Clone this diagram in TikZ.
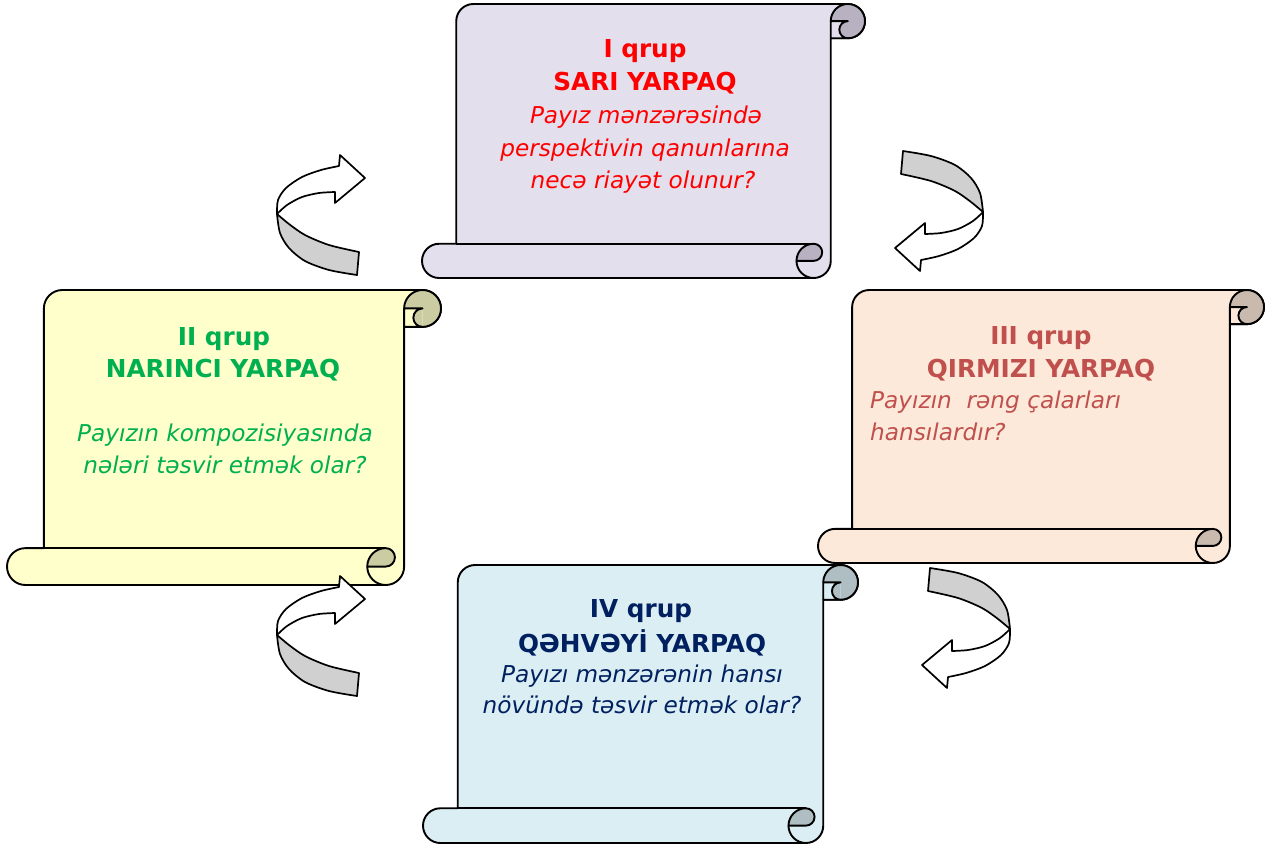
\documentclass[tikz,border=0pt]{standalone}
\usepackage{fontspec}
\setmainfont{DejaVu Sans}
\definecolor{sAfill}{HTML}{E4DFEC}\definecolor{sAcurl}{HTML}{B7B1C1}
\definecolor{sBfill}{HTML}{FFFFCC}\definecolor{sBcurl}{HTML}{CCCCA3}
\definecolor{sCfill}{HTML}{FDE9D9}\definecolor{sCcurl}{HTML}{CABAAE}
\definecolor{sDfill}{HTML}{DBEEF3}\definecolor{sDcurl}{HTML}{AFBEC2}
\definecolor{txA}{HTML}{FF0000}
\definecolor{txB}{HTML}{00B050}
\definecolor{txC}{HTML}{C0504D}
\definecolor{txD}{HTML}{002060}
\definecolor{ribbongray}{HTML}{D0D0D0}
\tikzset{
  scrollline/.style={draw=black, line width=1.9pt, line join=round},
  ribbon/.style={draw=black, line width=1.7pt, line join=round},
  hdr/.style={anchor=base, inner sep=0pt, font=\fontsize{24.7}{30}\selectfont\bfseries},
  qst/.style={anchor=base, inner sep=0pt, font=\fontsize{23.2}{30}\selectfont\itshape},
}
% #1 left, #2 top, #3 right, #4 bottom (screen pixels, y down), #5 fill, #6 curl fill
\newcommand{\scrollat}[6]{%
  \pgfmathsetmacro{\scC}{0.125*min(#3-#1,#4-#2)}%
  \pgfmathsetmacro{\scH}{\scC/2}%
  \pgfmathsetmacro{\scQ}{\scC/4}%
  \draw[scrollline, fill=#5] ({#1+\scC},{#4-\scC}) -- ({#1+\scC},{#2+\scH})
     arc[start angle=180, end angle=270, radius=\scH] -- ({#3-\scH},{#2})
     arc[start angle=270, end angle=450, radius=\scH] -- ({#3-\scC},{#2+\scC})
     -- ({#3-\scC},{#4-\scH}) arc[start angle=0, end angle=90, radius=\scH]
     -- ({#1+\scH},{#4}) arc[start angle=90, end angle=270, radius=\scH] -- cycle;
  \fill[#6] ({#3-\scH},{#2+\scH}) circle[radius=\scH];
  \fill[#5] ({#3-\scC},{#2+\scH}) rectangle ({#3-\scH},{#2+\scC});
  \fill[#6] ({#3-\scH},{#2+\scH}) arc[start angle=270, end angle=90, radius=\scQ] -- cycle;
  \draw[scrollline] ({#3-\scC},{#2+\scH}) arc[start angle=180, end angle=450, radius=\scH];
  \draw[scrollline] ({#3-\scC},{#2+\scC}) -- ({#3-\scC},{#2+\scH}) -- ({#3-\scH},{#2+\scH})
     arc[start angle=270, end angle=90, radius=\scQ] -- ({#3-\scC},{#2+\scC});
  \draw[scrollline] ({#1+\scC},{#4-\scC}) -- ({#3-\scC-\scH},{#4-\scC});
  \filldraw[scrollline, fill=#6] ({#3-\scC-\scH},{#4-\scC})
     arc[start angle=270, end angle=450, radius=\scQ] -- ({#3-\scC-\scC},{#4-\scH})
     arc[start angle=180, end angle=270, radius=\scH] -- cycle;
  \draw[scrollline] ({#3-\scC-\scC},{#4-\scH}) arc[start angle=180, end angle=90, radius=\scH];
}
\newcommand{\ribbonsil}[1]{%
  \path[#1] (365,178) -- (340,155) -- (339,166)
    -- plot[smooth] coordinates {(339,166) (321,170) (302,177) (286,188) (278,200) (277,214)}
    -- plot[smooth] coordinates {(277,214) (280,233) (289,248) (305,261) (329,270) (357,275)}
    -- (359,252)
    -- plot[smooth] coordinates {(359,252) (329,245) (305,235) (289,224) (277,214)}
    -- plot[smooth] coordinates {(277,214) (287,205) (302,197) (319,193) (335,192)}
    -- (335,203) -- cycle;}
\newcommand{\ribbonback}[1]{%
  \path[#1] (277,214)
    -- plot[smooth] coordinates {(277,214) (280,233) (289,248) (305,261) (329,270) (357,275)}
    -- (359,252)
    -- plot[smooth] coordinates {(359,252) (329,245) (305,235) (289,224) (277,214)} -- cycle;}
\newcommand{\ribbonarrow}{%
  \ribbonsil{fill=white}%
  \ribbonback{fill=ribbongray}%
  \ribbonsil{ribbon}%
}
\begin{document}
\begin{tikzpicture}[x=1pt, y=-1pt]
\useasboundingbox (0,0) rectangle (1268,847);
\fill[white] (0,0) rectangle (1268,847);

% scrolls
\scrollat{422}{4}{865}{278}{sAfill}{sAcurl}
\scrollat{7}{290}{441}{585}{sBfill}{sBcurl}
\scrollat{818}{290}{1264}{563}{sCfill}{sCcurl}
\scrollat{423}{565}{858}{843}{sDfill}{sDcurl}

% texts: I qrup
\node[hdr, text=txA] (ta1) at (645,57) {I qrup};
\node[hdr, text=txA] (ta2) at (645,90) {SARI YARPAQ};
\node[qst, text=txA] (ta3) at (646,123) {Payız mənzərəsində};
\node[qst, text=txA] (ta4) at (645,156) {perspektivin qanunlarına};
\node[qst, text=txA] (ta5) at (643,188) {necə riayət olunur?};

% II qrup
\node[hdr, text=txB] (tb1) at (224,345) {II qrup};
\node[hdr, text=txB] (tb2) at (223,377) {NARINCI YARPAQ};
\node[qst, text=txB] (tb3) at (225,441) {Payızın kompozisiyasında};
\node[qst, text=txB] (tb4) at (225,473) {nələri təsvir etmək olar?};

% III qrup
\node[hdr, text=txC] (tc1) at (1041,344) {III qrup};
\node[hdr, text=txC] (tc2) at (1041,377) {QIRMIZI YARPAQ};
\node[qst, text=txC, anchor=base west] (tc3) at (870,408) {Payızın\ \ rəng çalarları};
\node[qst, text=txC, anchor=base west] (tc4) at (870,440) {hansılardır?};

% IV qrup
\node[hdr, text=txD] (td1) at (641,617) {IV qrup};
\node[hdr, text=txD] (td2) at (642,652) {QƏHVƏYİ YARPAQ};
\node[qst, text=txD] (td3) at (642,682) {Payızı mənzərənin hansı};
\node[qst, text=txD] (td4) at (642,713) {növündə təsvir etmək olar?};

% curved ribbon arrows
\begin{scope}\ribbonarrow\end{scope}
\begin{scope}[shift={(0,421)}]\ribbonarrow\end{scope}
\begin{scope}[shift={(1260,426)}, rotate=180]\ribbonarrow\end{scope}
\begin{scope}[shift={(1287,843)}, rotate=180]\ribbonarrow\end{scope}
\end{tikzpicture}
\end{document}
